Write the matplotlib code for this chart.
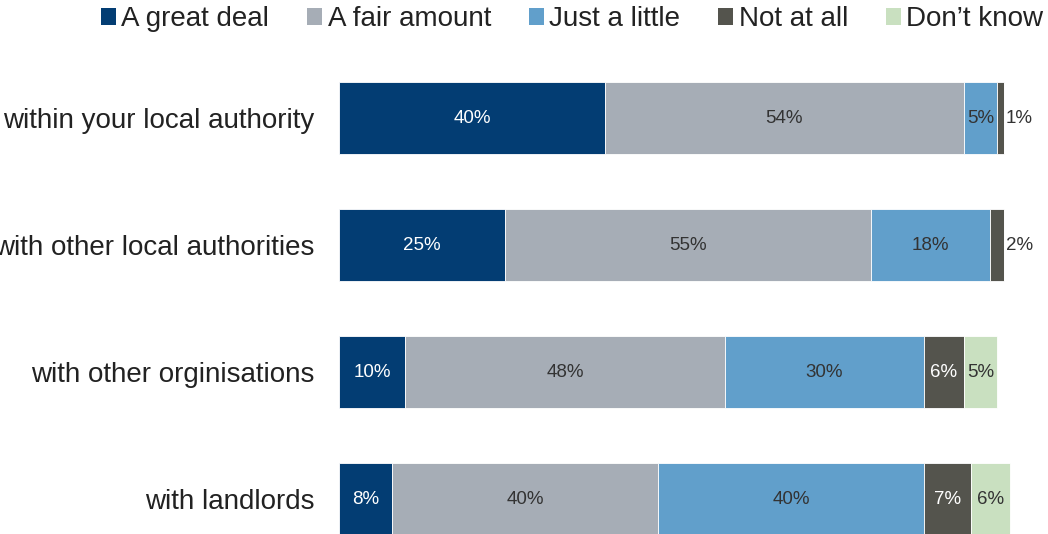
import numpy as np
import matplotlib.pyplot as plt
from matplotlib.patches import Patch

plt.rcParams['font.family'] = ['Liberation Sans', 'DejaVu Sans']

categories = ['within your local authority', 'with other local authorities',
              'with other orginisations', 'with landlords']
series = ['A great deal', 'A fair amount', 'Just a little', 'Not at all', "Don\u2019t know"]
great_deal = [40, 25, 10, 8]
fair_amount = [54, 55, 48, 40]
just_little = [5, 18, 30, 40]
not_at_all = [1, 2, 6, 7]
dont_know = [0, 0, 5, 6]

colors = ['#033d73', '#a6adb6', '#619fcb', '#54544d', '#c9e0c0']
txt_colors = ['white', '#333333', '#333333', 'white', '#333333']

def main():
    data = [great_deal, fair_amount, just_little, not_at_all, dont_know]
    fig = plt.figure(figsize=(10.48, 5.34), dpi=100)
    ax = fig.add_axes([339/1048, -3.1/534, 698/1048, 457.2/534])
    y = np.arange(len(categories))
    left = np.zeros(len(categories))
    for si, vals in enumerate(data):
        vals = np.array(vals, dtype=float)
        ax.barh(y, vals, left=left, height=0.567, color=colors[si],
                edgecolor='white', linewidth=0.6)
        for i, v in enumerate(vals):
            if v <= 0:
                continue
            if v <= 2:
                ax.text(left[i] + v + 0.3, y[i], '%d%%' % v, ha='left', va='center',
                        fontsize=13.5, color='#333333')
            else:
                ax.text(left[i] + v / 2, y[i], '%d%%' % v, ha='center', va='center',
                        fontsize=13.5, color=txt_colors[si])
        left += vals
    ax.set_xlim(0, 105)
    ax.set_ylim(3.3, -0.3)
    ax.set_yticks(y)
    ax.set_yticklabels(categories, fontsize=20, color='#222222')
    ax.tick_params(axis='y', length=0, pad=17.5)
    ax.set_xticks([])
    for s in ax.spines.values():
        s.set_visible(False)

    handles = [Patch(facecolor=c, edgecolor='none') for c in colors]
    fig.legend(handles, series, loc='center', bbox_to_anchor=(572/1048, 1 - 19/534),
               ncol=5, frameon=False, fontsize=20, handlelength=0.55, handleheight=0.55,
               handletextpad=0.2, columnspacing=1.35, borderaxespad=0,
               labelcolor='#222222')
    fig.savefig('out.png', dpi=100)

if __name__ == '__main__':
    main()
